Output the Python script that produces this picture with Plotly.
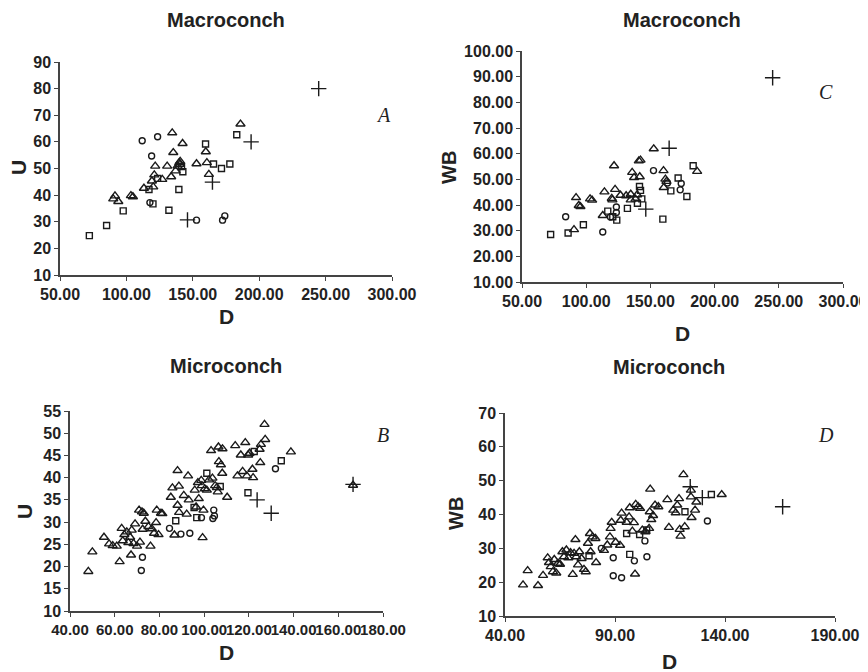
import plotly.graph_objects as go

# ---------------- Panel A: Macroconch, U vs D ----------------
a_circ_d = [111.9, 123.5, 119.0, 117.7, 152.8, 172.4, 174.1]
a_circ_u = [60.4, 61.9, 54.7, 37.2, 30.6, 30.6, 32.2]
a_sq_d = [72.1, 85.1, 97.6, 117.0, 120.0, 123.5, 132.0, 139.5, 141.5, 142.5, 159.6, 165.6, 171.6, 177.9, 183.1]
a_sq_u = [24.8, 28.6, 34.1, 42.1, 36.7, 46.3, 34.3, 42.1, 50.7, 48.8, 59.2, 51.7, 50.0, 51.7, 62.7]
a_tri_d = [90.1, 91.4, 93.9, 103.4, 104.9, 113.2, 120.2, 119.2, 121.0, 121.7, 127.0, 130.7, 133.7, 134.5,
           135.3, 137.0, 138.5, 139.8, 140.5, 140.3, 142.3, 152.8, 159.8, 160.6, 162.1, 185.9]
a_tri_u = [38.6, 39.7, 37.6, 39.8, 39.4, 42.6, 43.1, 45.3, 47.6, 50.9, 45.9, 50.9, 46.9, 63.4,
           56.0, 49.1, 50.9, 52.2, 52.7, 51.6, 59.4, 51.8, 56.3, 52.2, 47.8, 66.7]
a_plus_d = [146.0, 164.8, 193.9, 244.8]
a_plus_u = [30.7, 44.9, 60.0, 80.0]

# ---------------- Panel C: Macroconch, WB vs D ----------------
c_circ_d = [84.0, 112.9, 118.9, 123.5, 123.5, 152.4, 163.3, 174.0, 173.2]
c_circ_wb = [35.4, 29.5, 35.3, 39.2, 37.1, 53.4, 48.6, 48.4, 45.9]
c_sq_d = [72.3, 85.9, 97.8, 116.8, 120.7, 123.8, 132.1, 139.9, 141.5, 142.3, 143.3, 159.7, 165.9, 171.6, 178.4, 183.3]
c_sq_wb = [28.5, 29.1, 32.3, 37.6, 35.4, 34.1, 38.7, 40.7, 47.2, 45.7, 42.4, 34.5, 45.5, 50.5, 43.3, 55.3]
c_tri_d = [90.5, 92.1, 94.2, 95.5, 103.0, 104.6, 112.9, 114.2, 119.9, 120.4, 121.7, 122.5, 126.7, 131.1, 134.7,
           134.7, 135.8, 137.3, 138.4, 139.7, 141.0, 142.3, 141.7, 152.6, 160.2, 161.7, 162.5, 160.4, 186.4]
c_tri_wb = [30.4, 42.9, 39.8, 39.4, 42.4, 41.9, 35.9, 45.1, 42.6, 42.0, 55.3, 46.1, 43.8, 43.6, 44.2,
            42.0, 52.7, 50.7, 42.3, 44.0, 57.2, 57.5, 51.0, 61.9, 53.4, 50.1, 49.2, 46.8, 53.1]
c_plus_d = [146.4, 164.6, 245.2]
c_plus_wb = [38.4, 62.1, 89.6]

# ---------------- Panel B: Microconch, U vs D ----------------
b_tri_d = [48.2, 50.0, 55.2, 57.5, 59.1, 60.9, 62.2, 63.1, 63.6, 64.3, 65.4, 66.1, 66.9, 67.3, 67.6, 68.4,
           69.1, 70.0, 70.9, 71.3, 72.2, 73.0, 72.5, 73.7, 75.1, 76.0, 76.6, 77.6, 78.5, 78.8, 79.6, 80.7,
           81.3, 85.1, 85.8, 86.7, 88.1, 88.1, 88.7, 88.8, 90.9, 92.2, 92.8, 93.1, 95.8, 96.4, 97.2, 97.6,
           98.7, 99.0, 99.3, 99.7, 100.3, 101.2, 102.2, 103.1, 103.7, 104.9, 105.7, 106.1, 106.4, 106.6,
           107.5, 108.2, 108.1, 110.3, 113.9, 114.9, 116.4, 117.2, 118.4, 119.1, 119.7, 120.3, 121.6,
           121.9, 124.8, 125.1, 125.4, 127.0, 127.3, 138.8, 166.6]
b_tri_u = [18.9, 23.3, 26.6, 25.1, 24.7, 24.6, 21.1, 28.6, 25.8, 27.2, 27.8, 25.4, 26.6, 22.6, 28.2, 25.2,
           29.6, 24.6, 32.7, 25.5, 32.3, 32.0, 28.4, 30.2, 29.0, 24.6, 28.5, 27.5, 29.9, 32.7, 27.2, 32.0,
           31.9, 35.6, 37.7, 27.1, 41.6, 33.8, 38.1, 32.2, 36.0, 31.8, 40.4, 35.0, 37.2, 33.4, 38.9, 35.3,
           39.4, 38.2, 26.5, 32.7, 37.5, 37.2, 39.5, 46.1, 39.9, 38.2, 37.8, 36.8, 46.9, 43.6,
           42.9, 46.5, 41.0, 35.6, 47.2, 40.4, 45.1, 41.4, 47.9, 40.4, 45.1, 45.5, 41.9,
           40.0, 46.4, 43.4, 47.5, 52.0, 48.6, 45.8, 38.3]
b_sq_d = [87.3, 95.5, 96.7, 101.2, 107.2, 119.6, 122.4, 134.5]
b_sq_u = [30.3, 33.3, 31.0, 41.0, 38.0, 36.6, 45.9, 43.8]
b_circ_d = [71.9, 72.4, 84.5, 89.6, 93.6, 98.8, 104.3, 104.6, 103.9, 131.9]
b_circ_u = [19.1, 22.1, 28.6, 27.3, 27.5, 31.0, 32.7, 31.4, 30.8, 42.0]
b_plus_d = [123.7, 130.0, 166.6]
b_plus_u = [35.0, 32.0, 38.5]

# ---------------- Panel D: Microconch, WB vs D ----------------
d_tri_d = [48.2, 50.3, 55.0, 57.3, 59.4, 60.0, 60.8, 61.8, 62.4, 63.3, 64.1, 65.0, 66.1, 66.8, 67.9, 68.8,
           69.8, 70.8, 71.4, 72.0, 72.4, 73.2, 73.8, 74.8, 75.9, 76.7, 77.7, 78.6, 78.9, 79.8, 81.1, 81.4,
           85.0, 86.5, 87.7, 88.0, 88.5, 90.3, 92.3, 92.6, 93.0, 95.3, 96.4, 96.7, 97.9, 98.6, 99.1, 99.4,
           100.5, 101.4, 102.4, 103.8, 105.5, 105.8, 106.0, 106.5, 107.3, 108.2, 109.7, 113.8, 114.5,
           116.5, 117.6, 118.3, 119.1, 119.4, 119.8, 121.1, 121.7, 124.5, 124.5, 124.8, 126.4, 127.0, 138.5]
d_tri_wb = [19.2, 23.4, 19.0, 22.0, 27.2, 25.8, 24.6, 23.1, 26.7, 22.7, 25.6, 25.3, 29.0, 27.5, 29.5, 27.2,
            28.7, 22.3, 28.5, 32.6, 27.5, 25.1, 29.0, 27.0, 23.8, 23.1, 31.5, 34.4, 29.0, 33.4, 32.9, 25.8,
            29.4, 31.0, 33.4, 35.9, 37.7, 31.8, 30.9, 38.3, 40.4, 37.7, 39.3, 42.0, 35.1, 37.6, 22.4, 43.0,
            42.3, 41.8, 35.4, 34.9, 35.9, 40.8, 47.5, 38.5, 39.7, 42.8, 42.3, 44.4, 36.2,
            41.3, 40.5, 42.8, 44.7, 35.6, 33.6, 51.8, 36.4, 47.2, 45.2, 39.1, 41.3, 43.7, 45.9]
d_sq_d = [78.2, 95.3, 96.7, 101.2, 104.4, 121.8, 133.8]
d_sq_wb = [27.8, 34.4, 28.2, 34.1, 35.4, 40.8, 45.9]
d_circ_d = [83.8, 89.2, 89.2, 93.0, 98.8, 103.6, 104.5, 132.0]
d_circ_wb = [30.0, 27.2, 21.9, 21.3, 26.3, 32.2, 27.5, 38.1]
d_plus_d = [124.2, 129.7, 166.2]
d_plus_wb = [48.2, 45.0, 42.3]

# The page body has an 8px margin, so the figure is drawn 8px in from the
# window's top-left corner; size the figure to fill the rest of the window.
OFF = 8
W, H = 868 - OFF, 672 - OFF
INK = "#1a1a1a"
FONT = "Liberation Sans, Arial, sans-serif"


def px(x):
    return (x - OFF) / W


def py(y):
    return 1 - (y - OFF) / H


fig = go.Figure()

symbols = {
    "tri": dict(symbol="triangle-up-open", size=8),
    "sq": dict(symbol="square-open", size=6),
    "circ": dict(symbol="circle-open", size=6),
    "plus": dict(symbol="cross-thin-open", size=11),
}


def add(xs, ys, kind, ax):
    m = dict(symbols[kind])
    m.update(color=INK, line=dict(color=INK, width=1.4))
    fig.add_trace(go.Scatter(x=xs, y=ys, mode="markers", marker=m,
                             xaxis="x" + ax, yaxis="y" + ax, showlegend=False,
                             hoverinfo="x+y"))


for xs, ys, k in [(a_sq_d, a_sq_u, "sq"), (a_circ_d, a_circ_u, "circ"),
                  (a_tri_d, a_tri_u, "tri"), (a_plus_d, a_plus_u, "plus")]:
    add(xs, ys, k, "")
for xs, ys, k in [(c_sq_d, c_sq_wb, "sq"), (c_circ_d, c_circ_wb, "circ"),
                  (c_tri_d, c_tri_wb, "tri"), (c_plus_d, c_plus_wb, "plus")]:
    add(xs, ys, k, "2")
for xs, ys, k in [(b_sq_d, b_sq_u, "sq"), (b_circ_d, b_circ_u, "circ"),
                  (b_tri_d, b_tri_u, "tri"), (b_plus_d, b_plus_u, "plus")]:
    add(xs, ys, k, "3")
for xs, ys, k in [(d_sq_d, d_sq_wb, "sq"), (d_circ_d, d_circ_wb, "circ"),
                  (d_tri_d, d_tri_wb, "tri"), (d_plus_d, d_plus_wb, "plus")]:
    add(xs, ys, k, "4")


def axis(domain, rng, dtick, fmt, anchor, fsize=16):
    return dict(domain=domain, range=rng, dtick=dtick, tick0=rng[0], tickformat=fmt,
                showline=True, linecolor="#444", linewidth=1.5, ticks="outside",
                ticklen=4, tickcolor="#444", tickwidth=1.2, showgrid=False, zeroline=False,
                tickfont=dict(family=FONT, size=fsize, color="#222", weight="bold"),
                tickangle=0, anchor=anchor, automargin=False, fixedrange=True)


fig.update_layout(
    width=W, height=H, margin=dict(l=0, r=0, t=0, b=0),
    paper_bgcolor="white", plot_bgcolor="white",
    xaxis=axis([px(60), px(392)], [50, 300], 50, ".2f", "y"),
    yaxis=axis([py(275), py(62)], [10, 90], 10, "d", "x"),
    xaxis2=axis([px(522), px(843)], [50, 300], 50, ".2f", "y2"),
    yaxis2=axis([py(282), py(51)], [10, 100], 10, ".2f", "x2"),
    xaxis3=axis([px(70), px(383)], [40, 180], 20, ".2f", "y3", 15),
    yaxis3=axis([py(611), py(411)], [10, 55], 5, "d", "x3"),
    xaxis4=axis([px(505), px(835)], [40, 190], 50, ".2f", "y4"),
    yaxis4=axis([py(616), py(413)], [10, 70], 10, "d", "x4"),
)

ann = []


def text(x, y, s, size, angle=0):
    ann.append(dict(x=px(x), y=py(y), xref="paper", yref="paper", text=s, showarrow=False,
                    xanchor="center", yanchor="middle", textangle=angle,
                    font=dict(family=FONT, size=size, color="#222", weight="bold")))


# panel titles
text(226, 20, "Macroconch", 20)
text(682, 20, "Macroconch", 20)
text(226, 366, "Microconch", 20)
text(669, 367, "Microconch", 20)
# axis titles
text(18, 168, "U", 21, -90)
text(226, 316, "D", 21)
text(449, 168, "WB", 20, -90)
text(682, 333, "D", 21)
text(24, 512, "U", 21, -90)
text(226, 652, "D", 21)
text(456, 514, "WB", 20, -90)
text(669, 661, "D", 21)

# panel letters (italic serif)
for x, y, s in [(383, 115, "A"), (826, 92, "C"), (383, 435, "B"), (826, 435, "D")]:
    ann.append(dict(x=px(x), y=py(y), xref="paper", yref="paper", text=s, showarrow=False,
                    xanchor="center", yanchor="middle",
                    font=dict(family="Liberation Serif, Times New Roman, serif", size=20,
                              color="#222", style="italic")))

fig.update_layout(annotations=ann)

fig.write_html("out.html")
